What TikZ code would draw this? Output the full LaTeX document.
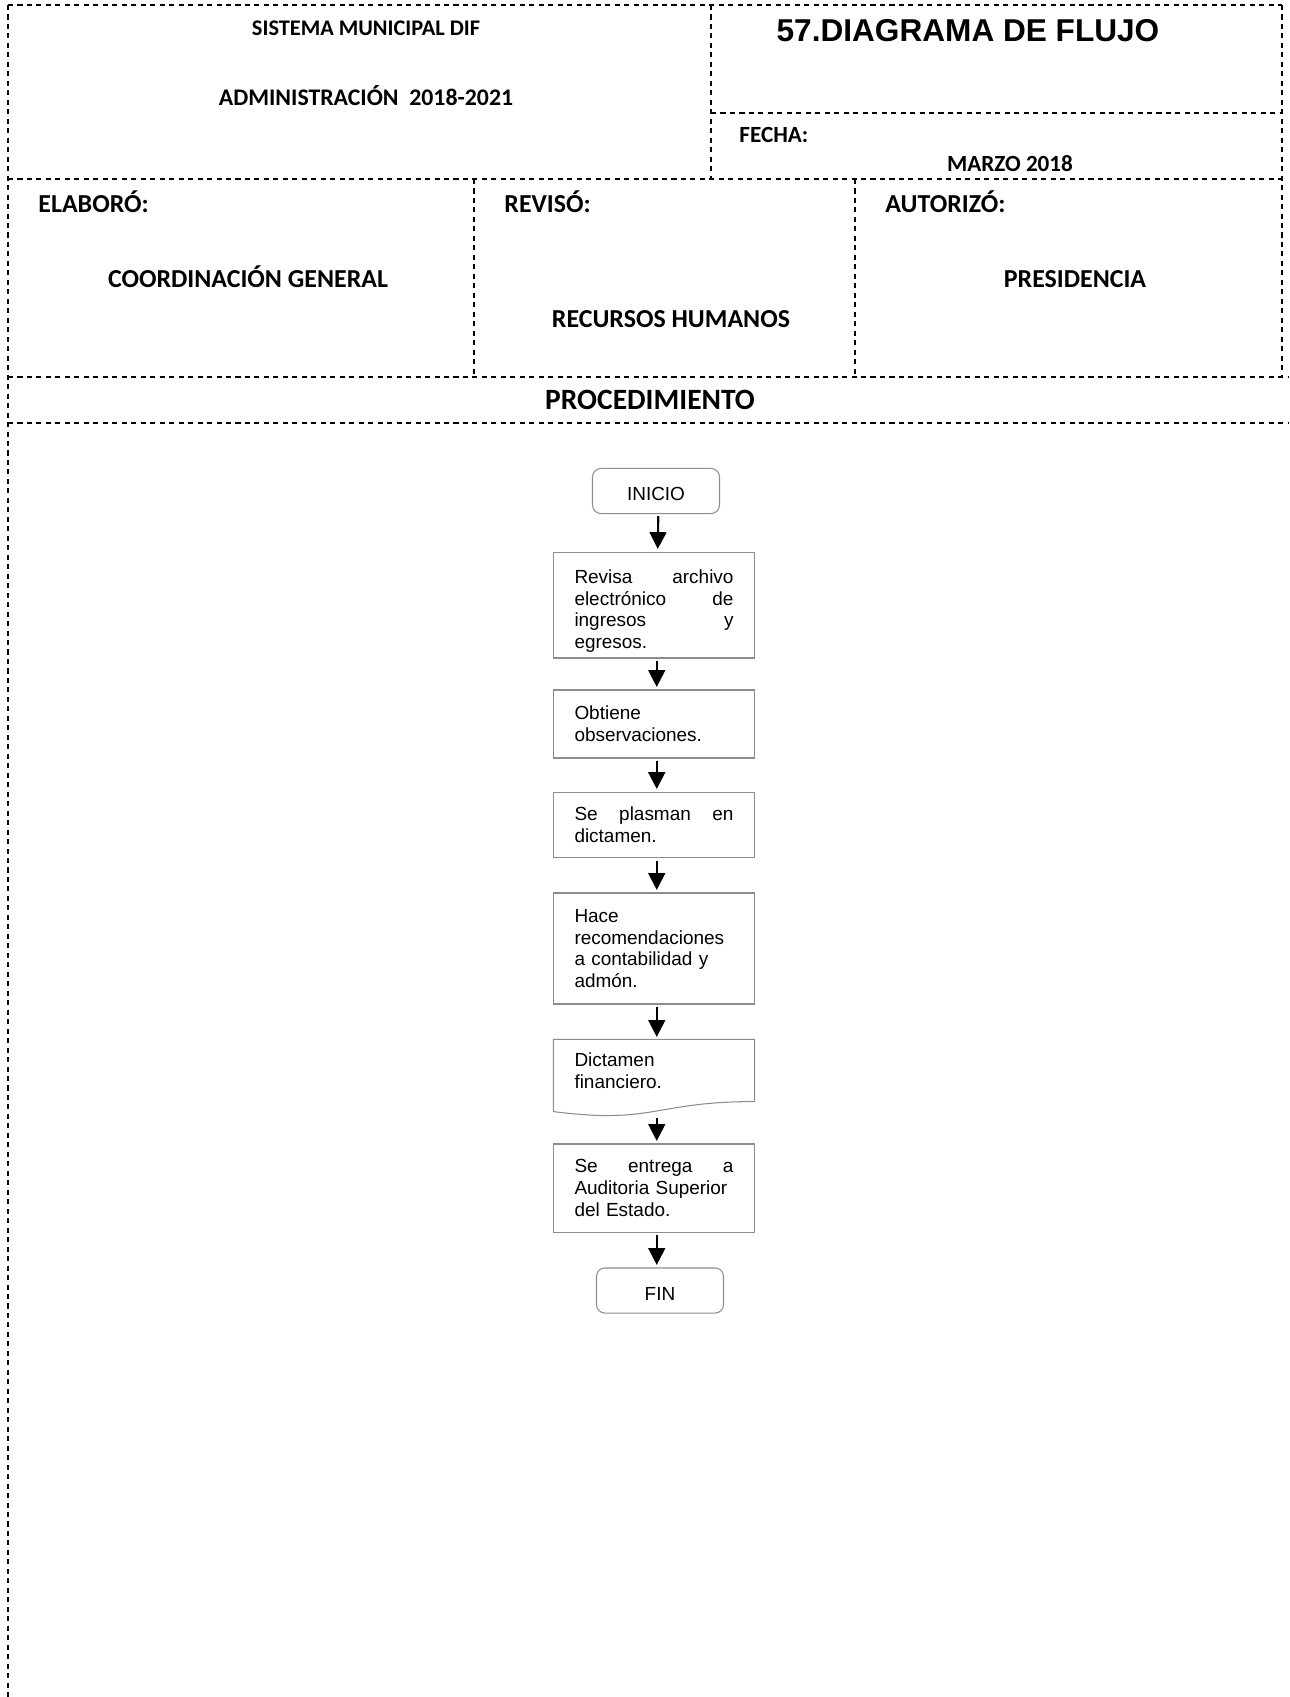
\documentclass[tikz,border=0pt]{standalone}
\usepackage{fontspec}
\setmainfont{Liberation Sans}
\newfontfamily\calibri{Carlito}
\usetikzlibrary{arrows.meta}
\usetikzlibrary{calc}
\newcommand{\hdrfont}[1]{\calibri\bfseries\fontsize{#1}{#1}\selectfont}
\newcommand{\boxfont}{\fontsize{9}{10.35}\selectfont}

\begin{document}
\begin{tikzpicture}[x=0.4748pt,y=-0.4748pt,
        frame/.style={line width=0.5pt, dash pattern=on 2.4pt off 2.1pt},
        hdr/.style={inner sep=0pt, anchor=base},
        proc/.style={draw=black!45, line width=0.5pt, text width=75.5pt,
                inner xsep=9.75pt, inner ysep=0pt, align=left, font=\boxfont},
        term/.style={draw=black!45, line width=0.5pt, rounded corners=4pt,
                minimum width=60.3pt, minimum height=21.4pt, font=\boxfont,
                text height=9.2pt, text depth=0pt},
        flow/.style={line width=1pt, -{Triangle[length=8pt,width=8pt]},
                shorten <=1pt, shorten >=1.2pt, transform canvas={xshift=1.3pt}}]
        \useasboundingbox (0,0) rectangle (1289,1697);
        % Form frame
        \draw[frame] (8,5) -- (1282,5);
        \draw[frame] (8,5) -- (8,1697);
        \draw[frame] (1282,5) -- (1282,377);
        \draw[frame] (711,5) -- (711,179);
        \draw[frame] (711,113) -- (1282,113);
        \draw[frame] (8,179) -- (1282,179);
        \draw[frame] (474,179) -- (474,377);
        \draw[frame] (855,179) -- (855,377);
        \draw[frame] (8,377) -- (1289,377);
        \draw[frame] (8,423) -- (1289,423);
        % Header texts
        \node[hdr, font=\hdrfont{10.6}] (sistema) at (366,36) {SISTEMA MUNICIPAL DIF};
        \node[hdr, font=\hdrfont{11.3}] (admon) at (366,106) {ADMINISTRACIÓN\ \ 2018-2021};
        \node[hdr, font=\bfseries\fontsize{15}{15}\selectfont] (titulo) at (968,42) {57.DIAGRAMA DE FLUJO};
        \node[hdr, anchor=base west, font=\hdrfont{11}] (fecha) at (739,143) {FECHA:};
        \node[hdr, font=\hdrfont{11}] (marzo) at (1010,172) {MARZO 2018};
        %
        \node[hdr, anchor=base west, font=\hdrfont{12.3}] (elaboro) at (38,213) {ELABORÓ:};
        \node[hdr, anchor=base west, font=\hdrfont{12.3}] (reviso) at (504,213) {REVISÓ:};
        \node[hdr, anchor=base west, font=\hdrfont{12.3}] (autorizo) at (885,213) {AUTORIZÓ:};
        \node[hdr, font=\hdrfont{12.3}] (coord) at (248,288) {COORDINACIÓN GENERAL};
        \node[hdr, font=\hdrfont{12.3}] (rh) at (671,328) {RECURSOS HUMANOS};
        \node[hdr, font=\hdrfont{12.3}] (presi) at (1075,288) {PRESIDENCIA};
        \node[hdr, font=\hdrfont{14}] (proced) at (650,410) {PROCEDIMIENTO};
        % Flow steps
        \node[term] (inicio) at (656,491) {INICIO};
        \node[proc, minimum height=50.3pt] (revisa) at (654,605)
                {\par\vspace*{2pt}Revisa\hfill archivo\\ electrónico\hfill de\\ ingresos\hfill y\\ egresos.};
        \node[proc, minimum height=32.3pt] (obtiene) at (654,724)
                {Obtiene\\ observaciones.};
        \node[proc, minimum height=31.3pt] (plasman) at (654,825)
                {Se\hfill plasman\hfill en\\ dictamen.};
        \node[proc, minimum height=52.7pt] (recom) at (654,948.5)
                {Hace\\ recomendaciones\\ a contabilidad y\\ admón.};
        \node[proc, draw=none, minimum height=29pt] (dictamen) at (654,1070.5)
                {Dictamen\\ financiero.};
        \draw[draw=black!45, line width=0.5pt] (dictamen.north west) -- (dictamen.north east)
                -- (dictamen.south east) .. controls (dictamen.south) and ($(dictamen.south)+(0,23)$)
                .. ($(dictamen.south west)+(0,10)$) -- cycle;
        \node[proc, minimum height=41.8pt] (entrega) at (654,1188)
                {Se\hfill entrega\hfill a\\ Auditoria Superior\\ del Estado.};
        \node[term] (fin) at (660,1290.5) {FIN};
        % Connectors
        \draw[flow] (inicio) -- (revisa);
        \draw[flow] (revisa) -- (obtiene);
        \draw[flow] (obtiene) -- (plasman);
        \draw[flow] (plasman) -- (recom);
        \draw[flow] (recom) -- (dictamen);
        \draw[flow] ($(dictamen.south)+(0,14)$) -- (entrega);
        \draw[flow] (entrega) -- (entrega.south |- fin.north);
\end{tikzpicture}
\end{document}
